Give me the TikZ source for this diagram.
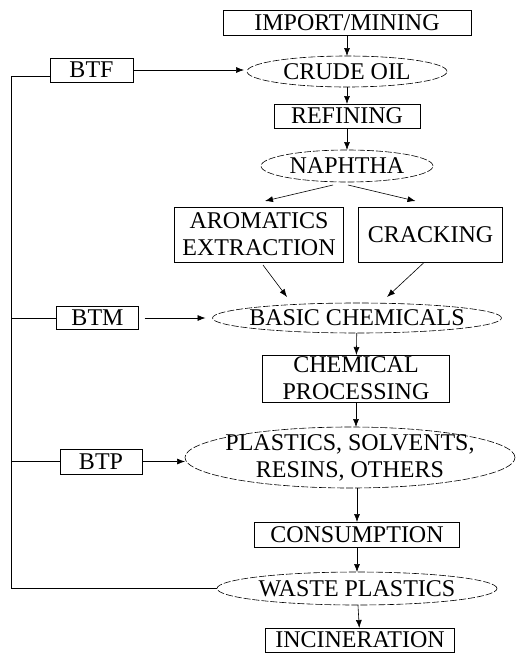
\documentclass[tikz,border=0pt]{standalone}
\usepackage{fontspec}
\setmainfont{Liberation Serif}
\usepackage{tikz}
\usetikzlibrary{positioning, shapes.geometric, arrows.meta}

\tikzset{
  >={Latex[length=8pt,width=6pt]},
  stage/.style={draw, rectangle, line width=0.6pt, inner sep=0pt, outer sep=0pt, align=center},
  stock/.style={draw, ellipse, line width=0.6pt, dash pattern=on 7pt off 2pt,
    inner xsep=-25pt, inner ysep=-5pt, outer sep=0pt, align=center},
  flow/.style={->, line width=0.6pt},
}

\begin{document}
\begin{tikzpicture}[x=1pt, y=1pt, font=\fontsize{24}{27}\selectfont]
  \useasboundingbox (0,0) rectangle (522,-656);
  \node [stage, minimum width=248pt, minimum height=25pt] (import) at (347,-22.5) {IMPORT/MINING};
  \node [stock, minimum width=200pt, minimum height=31pt, below=21pt of import] (crude) {CRUDE OIL};
  \node [stage, minimum width=146pt, minimum height=24pt, below=17pt of crude] (refining) {REFINING};
  \node [stock, minimum width=172pt, minimum height=32pt, below=22pt of refining] (naphtha) {NAPHTHA};
  \node [stage, minimum width=169pt, minimum height=55pt, below=25pt of naphtha, xshift=-88pt] (aromatics) {AROMATICS\\EXTRACTION};
  \node [stage, minimum width=144pt, minimum height=55pt, right=15pt of aromatics] (cracking) {CRACKING};
  \node [stock, minimum width=289pt, minimum height=30pt, below=121pt of naphtha, xshift=10pt] (basic) {BASIC CHEMICALS};
  \node [stage, minimum width=187pt, minimum height=47pt, below=22pt of basic, xshift=-1pt] (chemproc) {CHEMICAL\\PROCESSING};
  \node [stock, minimum width=330pt, minimum height=61pt, below=25pt of chemproc, xshift=-6pt] (plastics) {PLASTICS, SOLVENTS,\\RESINS, OTHERS};
  \node [stage, minimum width=205pt, minimum height=25pt, below=34pt of plastics, xshift=7pt] (consumption) {CONSUMPTION};
  \node [stock, minimum width=280pt, minimum height=33pt, below=25pt of consumption] (waste) {WASTE PLASTICS};
  \node [stage, minimum width=189pt, minimum height=24pt, below=23pt of waste, xshift=3pt] (incineration) {INCINERATION};
  \node [stage, minimum width=83pt, minimum height=24pt, left=114pt of crude, yshift=1.5pt] (btf) {BTF};
  \node [stage, minimum width=82pt, minimum height=23pt, left=74pt of basic] (btm) {BTM};
  \node [stage, minimum width=82pt, minimum height=25pt, left=43pt of plastics, yshift=-4pt] (btp) {BTP};
  \coordinate (back) at ([xshift=-39pt, yshift=-6pt]btf.west);
  % main chain
  \draw [flow] (import) -- (crude);
  \draw [flow] (crude) -- (refining);
  \draw [flow] (refining) -- (naphtha);
  \draw [flow] ([xshift=-14pt, yshift=-3pt]naphtha.south) -- ([xshift=6pt, yshift=6pt]aromatics.north);
  \draw [flow] ([xshift=1pt, yshift=-3pt]naphtha.south) -- ([xshift=-15pt, yshift=6pt]cracking.north);
  \draw [flow] ([xshift=4pt, yshift=-3pt]aromatics.south) -- ([xshift=-70pt, yshift=6pt]basic.north);
  \draw [flow] ([xshift=-7pt, yshift=-1pt]cracking.south) -- ([xshift=30pt, yshift=6pt]basic.north);
  \draw [flow] (basic) -- (chemproc);
  \draw [flow] (chemproc.south) -- (chemproc.south |- plastics.north);
  \draw [flow] (plastics.south -| consumption.north) -- (consumption.north);
  \draw [flow] (consumption) -- (waste);
  \draw [flow] (waste) -- (incineration);
  % recycling back
  \draw [flow, shorten >=3pt] (btf.east) -- (btf.east -| crude.west);
  \draw [flow, shorten <=6pt, shorten >=7pt] (btm) -- (basic);
  \draw [flow] (btp.east) -- (btp.east -| plastics.west);
  \draw [line width=0.6pt] (waste.west) -| (back) -- (back -| btf.west);
  \draw [line width=0.6pt] (back |- btm.west) -- (btm.west);
  \draw [line width=0.6pt] (back |- btp.west) -- (btp.west);
\end{tikzpicture}
\end{document}
